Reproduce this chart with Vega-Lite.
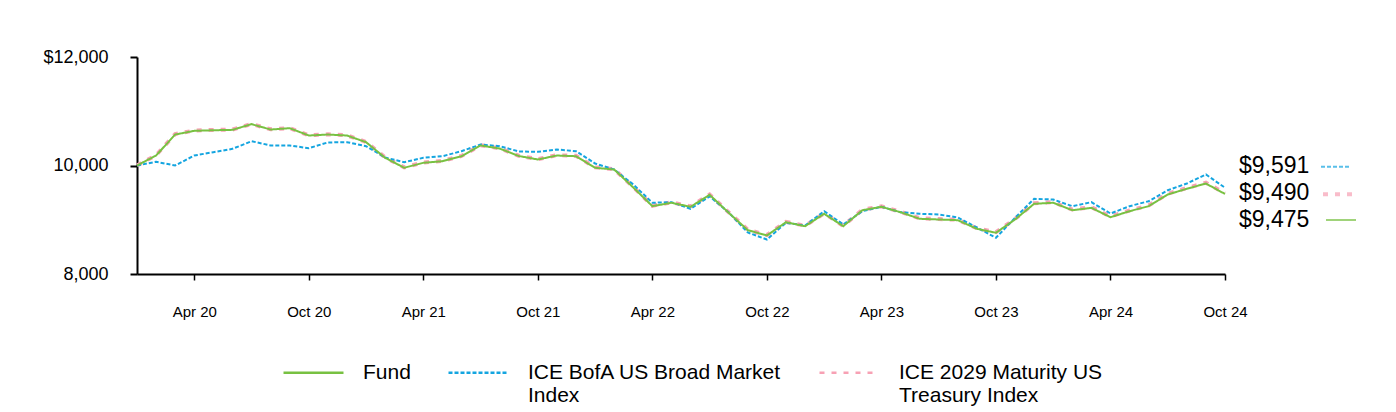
{
  "$schema": "https://vega.github.io/schema/vega-lite/v6.json",
  "width": 1088,
  "height": 217,
  "autosize": {"type": "none"},
  "padding": {"left": 137, "top": 57, "right": 171, "bottom": 138},
  "background": "white",
  "config": {
    "view": {"stroke": null},
    "font": "Liberation Sans",
    "axis": {"grid": false, "domainColor": "#000", "tickColor": "#000", "labelColor": "#000", "labelFont": "Liberation Sans", "title": null},
    "legend": {
      "orient": "none",
      "legendX": 145,
      "legendY": 284,
      "columns": 3,
      "title": null,
      "symbolType": "stroke",
      "symbolSize": 3600,
      "symbolStrokeWidth": 2.5,
      "labelFont": "Liberation Sans",
      "labelFontSize": 21,
      "labelColor": "#000",
      "labelLimit": 0,
      "labelOffset": 18,
      "columnPadding": 32
    }
  },
  "data": {
    "values": [
      {"month": "Jan 20", "fund": 10000, "bofa": 10000, "t2029": 10000},
      {"month": "Feb 20", "fund": 10184, "bofa": 10068, "t2029": 10190},
      {"month": "Mar 20", "fund": 10571, "bofa": 10000, "t2029": 10580},
      {"month": "Apr 20", "fund": 10639, "bofa": 10184, "t2029": 10645},
      {"month": "May 20", "fund": 10650, "bofa": 10245, "t2029": 10655},
      {"month": "Jun 20", "fund": 10657, "bofa": 10307, "t2029": 10662},
      {"month": "Jul 20", "fund": 10762, "bofa": 10448, "t2029": 10765},
      {"month": "Aug 20", "fund": 10663, "bofa": 10369, "t2029": 10668},
      {"month": "Sep 20", "fund": 10688, "bofa": 10369, "t2029": 10690},
      {"month": "Oct 20", "fund": 10553, "bofa": 10319, "t2029": 10558},
      {"month": "Nov 20", "fund": 10571, "bofa": 10425, "t2029": 10575},
      {"month": "Dec 20", "fund": 10553, "bofa": 10430, "t2029": 10556},
      {"month": "Jan 21", "fund": 10430, "bofa": 10356, "t2029": 10435},
      {"month": "Feb 21", "fund": 10142, "bofa": 10147, "t2029": 10148},
      {"month": "Mar 21", "fund": 9958, "bofa": 10061, "t2029": 9965},
      {"month": "Apr 21", "fund": 10050, "bofa": 10142, "t2029": 10056},
      {"month": "May 21", "fund": 10079, "bofa": 10171, "t2029": 10085},
      {"month": "Jun 21", "fund": 10171, "bofa": 10264, "t2029": 10176},
      {"month": "Jul 21", "fund": 10369, "bofa": 10387, "t2029": 10372},
      {"month": "Aug 21", "fund": 10313, "bofa": 10356, "t2029": 10318},
      {"month": "Sep 21", "fund": 10175, "bofa": 10260, "t2029": 10180},
      {"month": "Oct 21", "fund": 10111, "bofa": 10252, "t2029": 10118},
      {"month": "Nov 21", "fund": 10184, "bofa": 10295, "t2029": 10190},
      {"month": "Dec 21", "fund": 10171, "bofa": 10264, "t2029": 10178},
      {"month": "Jan 22", "fund": 9958, "bofa": 10037, "t2029": 9965},
      {"month": "Feb 22", "fund": 9926, "bofa": 9926, "t2029": 9932},
      {"month": "Mar 22", "fund": 9595, "bofa": 9650, "t2029": 9602},
      {"month": "Apr 22", "fund": 9250, "bofa": 9313, "t2029": 9258},
      {"month": "May 22", "fund": 9313, "bofa": 9324, "t2029": 9320},
      {"month": "Jun 22", "fund": 9239, "bofa": 9202, "t2029": 9246},
      {"month": "Jul 22", "fund": 9460, "bofa": 9430, "t2029": 9466},
      {"month": "Aug 22", "fund": 9128, "bofa": 9134, "t2029": 9136},
      {"month": "Sep 22", "fund": 8808, "bofa": 8765, "t2029": 8816},
      {"month": "Oct 22", "fund": 8710, "bofa": 8636, "t2029": 8718},
      {"month": "Nov 22", "fund": 8955, "bofa": 8944, "t2029": 8962},
      {"month": "Dec 22", "fund": 8881, "bofa": 8894, "t2029": 8889},
      {"month": "Jan 23", "fund": 9110, "bofa": 9158, "t2029": 9118},
      {"month": "Feb 23", "fund": 8881, "bofa": 8913, "t2029": 8889},
      {"month": "Mar 23", "fund": 9176, "bofa": 9158, "t2029": 9184},
      {"month": "Apr 23", "fund": 9239, "bofa": 9239, "t2029": 9247},
      {"month": "May 23", "fund": 9139, "bofa": 9139, "t2029": 9147},
      {"month": "Jun 23", "fund": 9018, "bofa": 9110, "t2029": 9027},
      {"month": "Jul 23", "fund": 9005, "bofa": 9097, "t2029": 9014},
      {"month": "Aug 23", "fund": 8992, "bofa": 9042, "t2029": 9001},
      {"month": "Sep 23", "fund": 8833, "bofa": 8857, "t2029": 8843},
      {"month": "Oct 23", "fund": 8760, "bofa": 8667, "t2029": 8770},
      {"month": "Nov 23", "fund": 9005, "bofa": 9036, "t2029": 9015},
      {"month": "Dec 23", "fund": 9294, "bofa": 9386, "t2029": 9305},
      {"month": "Jan 24", "fund": 9313, "bofa": 9373, "t2029": 9324},
      {"month": "Feb 24", "fund": 9176, "bofa": 9250, "t2029": 9188},
      {"month": "Mar 24", "fund": 9220, "bofa": 9324, "t2029": 9232},
      {"month": "Apr 24", "fund": 9047, "bofa": 9115, "t2029": 9060},
      {"month": "May 24", "fund": 9158, "bofa": 9250, "t2029": 9171},
      {"month": "Jun 24", "fund": 9250, "bofa": 9342, "t2029": 9263},
      {"month": "Jul 24", "fund": 9466, "bofa": 9545, "t2029": 9480},
      {"month": "Aug 24", "fund": 9571, "bofa": 9668, "t2029": 9585},
      {"month": "Sep 24", "fund": 9668, "bofa": 9834, "t2029": 9683},
      {"month": "Oct 24", "fund": 9475, "bofa": 9591, "t2029": 9490}
    ]
  },
  "transform": [{"fold": ["fund", "bofa", "t2029"], "as": ["key", "value"]}],
  "encoding": {
    "x": {
      "field": "month", "type": "ordinal", "sort": null,
      "scale": {"type": "point", "padding": 0},
      "axis": {
        "values": ["Apr 20", "Oct 20", "Apr 21", "Oct 21", "Apr 22", "Oct 22", "Apr 23", "Oct 23", "Apr 24", "Oct 24"],
        "labelAngle": 0, "labelFontSize": 15, "tickSize": 6, "tickWidth": 1.5, "domainWidth": 2, "labelPadding": 24
      }
    },
    "y": {
      "field": "value", "type": "quantitative",
      "scale": {"domain": [8000, 12000], "nice": false, "zero": false},
      "axis": {
        "values": [8000, 10000, 12000],
        "labelExpr": "datum.value == 12000 ? '$12,000' : format(datum.value, ',')",
        "labelFontSize": 18, "tickSize": 7, "tickWidth": 2, "domainWidth": 2, "labelPadding": 22
      }
    }
  },
  "layer": [
    {
      "transform": [{"filter": "datum.key == 't2029'"}],
      "mark": {"type": "line", "strokeWidth": 4},
      "encoding": {
        "color": {"field": "key", "type": "nominal", "scale": {"domain": ["fund", "bofa", "t2029"], "range": ["#78c142", "#14a5e0", "#f7a1b4"]},
          "legend": {
            "labelExpr": "datum.value == 'fund' ? ['Fund', ' '] : datum.value == 'bofa' ? ['ICE BofA US Broad Market', 'Index'] : ['ICE 2029 Maturity US', 'Treasury Index']"
          }},
        "strokeDash": {"field": "key", "type": "nominal", "scale": {"domain": ["fund", "bofa", "t2029"], "range": [[1, 0], [4, 2], [5, 7]]}}
      }
    },
    {
      "transform": [{"filter": "datum.key == 'bofa'"}],
      "mark": {"type": "line", "strokeWidth": 2},
      "encoding": {
        "color": {"field": "key", "type": "nominal"},
        "strokeDash": {"field": "key", "type": "nominal"}
      }
    },
    {
      "transform": [{"filter": "datum.key == 'fund'"}],
      "mark": {"type": "line", "strokeWidth": 2},
      "encoding": {
        "color": {"field": "key", "type": "nominal"},
        "strokeDash": {"field": "key", "type": "nominal"}
      }
    },
    {
      "transform": [{"filter": "datum.key == 'bofa' && datum.month == 'Oct 24'"}],
      "mark": {"type": "text", "align": "left", "baseline": "middle", "dx": 14, "dy": -22, "fontSize": 23, "color": "#000"},
      "encoding": {"text": {"field": "value", "type": "quantitative", "format": "$,.0f"}}
    },
    {
      "transform": [{"filter": "datum.key == 't2029' && datum.month == 'Oct 24'"}],
      "mark": {"type": "text", "align": "left", "baseline": "middle", "dx": 14, "dy": 0, "fontSize": 23, "color": "#000"},
      "encoding": {"text": {"field": "value", "type": "quantitative", "format": "$,.0f"}}
    },
    {
      "transform": [{"filter": "datum.key == 'fund' && datum.month == 'Oct 24'"}],
      "mark": {"type": "text", "align": "left", "baseline": "middle", "dx": 14, "dy": 26, "fontSize": 23, "color": "#000"},
      "encoding": {"text": {"field": "value", "type": "quantitative", "format": "$,.0f"}}
    },
    {
      "transform": [{"filter": "datum.key == 'bofa' && datum.month == 'Oct 24'"}],
      "mark": {"type": "point", "shape": "stroke", "size": 900, "filled": false, "stroke": "#14a5e0", "strokeWidth": 2, "strokeDash": [4, 2], "xOffset": 111, "yOffset": -21},
      "encoding": {}
    },
    {
      "transform": [{"filter": "datum.key == 't2029' && datum.month == 'Oct 24'"}],
      "mark": {"type": "point", "shape": "stroke", "size": 900, "filled": false, "stroke": "#f7a1b4", "strokeWidth": 4, "strokeDash": [5, 7], "xOffset": 113, "yOffset": 1},
      "encoding": {}
    },
    {
      "transform": [{"filter": "datum.key == 'fund' && datum.month == 'Oct 24'"}],
      "mark": {"type": "point", "shape": "stroke", "size": 900, "filled": false, "stroke": "#78c142", "strokeWidth": 2, "xOffset": 116, "yOffset": 26},
      "encoding": {}
    }
  ]
}
